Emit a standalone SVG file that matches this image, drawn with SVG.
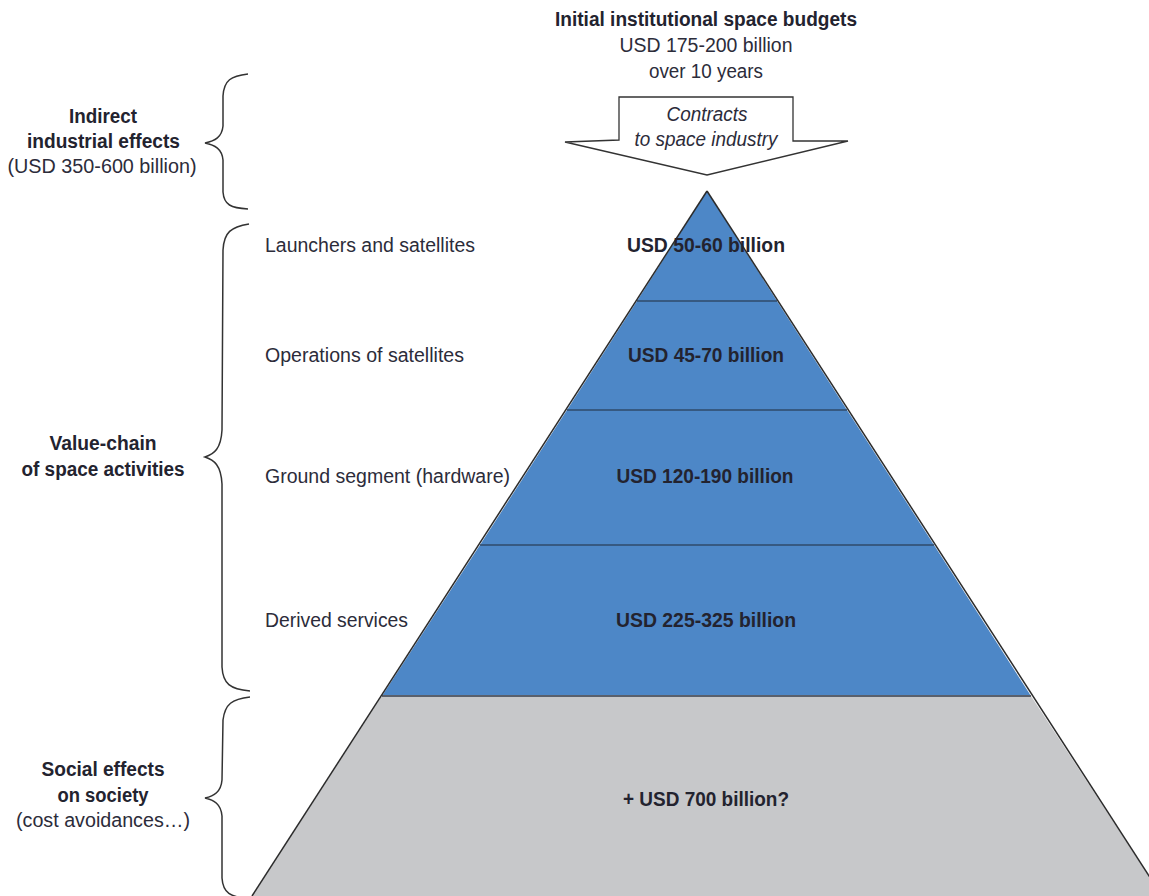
<svg xmlns="http://www.w3.org/2000/svg" width="1149" height="896" viewBox="0 0 1149 896">
<style>
text{font-family:"Liberation Sans",Arial,sans-serif;font-size:20px;fill:#2c2c3a}
.b{font-weight:bold;fill:#23232f}
.c{text-anchor:middle}
.i{font-style:italic}
.brace{fill:none;stroke:#333;stroke-width:1.5}
.edge{stroke:#2b2b2b;stroke-width:1.5}
</style>
<rect width="1149" height="896" fill="#fff"/>
<g id="budget">
<text class="b c" x="706" y="26" textLength="302" lengthAdjust="spacingAndGlyphs">Initial institutional space budgets</text>
<text class="c" x="706" y="52" textLength="173" lengthAdjust="spacingAndGlyphs">USD 175-200 billion</text>
<text class="c" x="706" y="78" textLength="114" lengthAdjust="spacingAndGlyphs">over 10 years</text>
</g>
<g id="contracts-arrow">
<path d="M619,97 L793,97 L793,141 L848,141 L707,175 L565,142 L619,140 Z" fill="#fff" stroke="#333" stroke-width="1.3"/>
<text class="c i" x="707" y="121" textLength="81" lengthAdjust="spacingAndGlyphs">Contracts</text>
<text class="c i" x="706" y="146" textLength="143" lengthAdjust="spacingAndGlyphs">to space industry</text>
</g>
<g id="pyramid">
<polygon id="tier-social" points="382,696 1031,696 1162,896 252,896" fill="#c7c8ca"/>
<polygon id="tier-derived" points="480,545 934,545 1031,696 382,696" fill="#4d87c7"/>
<polygon id="tier-ground" points="567,410 847,410 934,545 480,545" fill="#4d87c7"/>
<polygon id="tier-ops" points="637,301 777,301 847,410 567,410" fill="#4d87c7"/>
<polygon id="tier-launch" points="707,191 777,301 637,301" fill="#4d87c7"/>
<line x1="637" y1="301" x2="777" y2="301" stroke="#2f4a6a" stroke-width="1.3"/>
<line x1="567" y1="410" x2="847" y2="410" stroke="#2f4a6a" stroke-width="1.3"/>
<line x1="480" y1="545" x2="934" y2="545" stroke="#2f4a6a" stroke-width="1.3"/>
<line x1="382" y1="696" x2="1031" y2="696" stroke="#59606c" stroke-width="2"/>
<line class="edge" x1="707" y1="191" x2="252" y2="896"/>
<line class="edge" x1="707" y1="191" x2="1162" y2="896"/>
<text class="b c" x="706" y="252" textLength="158" lengthAdjust="spacingAndGlyphs">USD 50-60 billion</text>
<text class="b c" x="706" y="362" textLength="156" lengthAdjust="spacingAndGlyphs">USD 45-70 billion</text>
<text class="b c" x="705" y="483" textLength="177" lengthAdjust="spacingAndGlyphs">USD 120-190 billion</text>
<text class="b c" x="706" y="627" textLength="180" lengthAdjust="spacingAndGlyphs">USD 225-325 billion</text>
<text class="b c" x="706" y="806" textLength="166" lengthAdjust="spacingAndGlyphs">+ USD 700 billion?</text>
</g>
<g id="tier-labels">
<text x="265" y="252" textLength="210" lengthAdjust="spacingAndGlyphs">Launchers and satellites</text>
<text x="265" y="362" textLength="199" lengthAdjust="spacingAndGlyphs">Operations of satellites</text>
<text x="265" y="483" textLength="245" lengthAdjust="spacingAndGlyphs">Ground segment (hardware)</text>
<text x="265" y="627" textLength="143" lengthAdjust="spacingAndGlyphs">Derived services</text>
</g>
<g id="indirect">
<text class="b c" x="103" y="123" textLength="68" lengthAdjust="spacingAndGlyphs">Indirect</text>
<text class="b c" x="103.5" y="148" textLength="153" lengthAdjust="spacingAndGlyphs">industrial effects</text>
<text class="c" x="102" y="173" textLength="189" lengthAdjust="spacingAndGlyphs">(USD 350-600 billion)</text>
</g>
<g id="value-chain">
<text class="b c" x="103" y="450" textLength="107" lengthAdjust="spacingAndGlyphs">Value-chain</text>
<text class="b c" x="103" y="476" textLength="163" lengthAdjust="spacingAndGlyphs">of space activities</text>
</g>
<g id="social">
<text class="b c" x="103" y="776" textLength="123" lengthAdjust="spacingAndGlyphs">Social effects</text>
<text class="b c" x="103" y="802" textLength="91" lengthAdjust="spacingAndGlyphs">on society</text>
<text class="c" x="103" y="827" textLength="174" lengthAdjust="spacingAndGlyphs">(cost avoidances…)</text>
</g>
<g id="connectors">
<path class="brace" d="M248,74 C231,76 224,80 223,96 L223,126 C222,137 215,141 205,143 C215,145 222,149 223,160 L223,192 C224,205 231,208 248,209"/>
<path class="brace" d="M249,224 C231,227 224,232 223,250 L222,430 C221,449 214,454 205,457 C214,460 221,465 222,484 L222,667 C223,684 230,689 250,691"/>
<path class="brace" d="M250,697 C232,699 225,704 223,720 L222,780 C221,792 214,796 205,798 C214,800 221,804 222,816 L222,878 C223,893 230,897 250,899"/>
</g>
</svg>
